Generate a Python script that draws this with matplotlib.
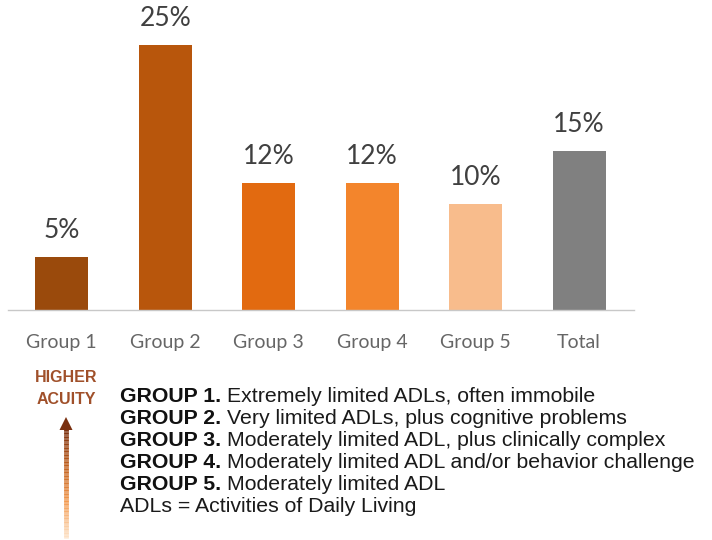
import numpy as np
import matplotlib
matplotlib.use("Agg")
import matplotlib.pyplot as plt
from matplotlib.collections import LineCollection
from matplotlib.colors import LinearSegmentedColormap

groups = ["Group 1", "Group 2", "Group 3", "Group 4", "Group 5", "Total"]
shares = [5, 25, 12, 12, 10, 15]
bar_colors = ["#9A4A0C", "#B8560C", "#E26A10", "#F3852C", "#F8BC8C", "#808080"]

legend_heads = ["GROUP 1.", "GROUP 2.", "GROUP 3.", "GROUP 4.", "GROUP 5."]
legend_texts = [
    "Extremely limited ADLs, often immobile",
    "Very limited ADLs, plus cognitive problems",
    "Moderately limited ADL, plus clinically complex",
    "Moderately limited ADL and/or behavior challenge",
    "Moderately limited ADL",
]
footnote = "ADLs = Activities of Daily Living"

fig = plt.figure(figsize=(7.12, 5.4), dpi=100)

# bar chart ----------------------------------------------------------------
ax = fig.add_axes([8 / 712, 1 - 310 / 540, 626 / 712, 291.5 / 540])
x = np.arange(len(groups))
ax.bar(x, shares, width=0.51, color=bar_colors)
for xi, v in zip(x, shares):
    ax.text(xi, v + 1.3, f"{v}%", ha="center", va="bottom",
            fontsize=19, color="#404040", family="Lato")
ax.set_xlim(-0.52, 5.53)
ax.set_ylim(0, 27.5)
ax.set_xticks(x)
ax.set_xticklabels(groups, fontsize=14, color="#666666", family="Lato")
ax.tick_params(axis="x", length=0, pad=17)
ax.set_yticks([])
for s in ["top", "right", "left"]:
    ax.spines[s].set_visible(False)
ax.spines["bottom"].set_color("#C8C8C8")
ax.spines["bottom"].set_linewidth(1)

# acuity arrow -------------------------------------------------------------
fig.text(66 / 712, 1 - 377 / 540, "HIGHER", ha="center", va="center",
         fontsize=11.5, fontweight="bold", color="#A0502A", family="Liberation Sans")
fig.text(66 / 712, 1 - 400 / 540, "ACUITY", ha="center", va="center",
         fontsize=11.5, fontweight="bold", color="#A0502A", family="Liberation Sans")

arr = fig.add_axes([0, 0, 1, 1], zorder=-1)
arr.set_xlim(0, 712)
arr.set_ylim(540, 0)
arr.axis("off")
cmap = LinearSegmentedColormap.from_list("acuity", ["#FDE3C8", "#F39A50", "#C0601E", "#7A3010"])
ys = np.linspace(538, 428, 80)
segs = [[(66, ys[i]), (66, ys[i + 1])] for i in range(len(ys) - 1)]
lc = LineCollection(segs, colors=cmap(np.linspace(0, 1, len(segs))), linewidths=3.5)
arr.add_collection(lc)
arr.fill([59.5, 72.5, 66], [430, 430, 417], color="#7A3010", lw=0)

# group descriptions ---------------------------------------------------------
font = ["Liberation Sans", "DejaVu Sans"]
y0 = 397
for i, (h, t) in enumerate(zip(legend_heads, legend_texts)):
    y = 1 - (y0 + 22 * i) / 540
    txt = fig.text(120 / 712, y, h + " ", fontsize=15.3, fontweight="bold",
                   va="center", family=font, color="#111111")
    fig.canvas.draw()
    bb = txt.get_window_extent()
    fig.text(bb.x1 / 712, y, t, fontsize=15.3, va="center", family=font,
             color="#1a1a1a")
fig.text(120 / 712, 1 - (y0 + 22 * 5) / 540, footnote, fontsize=15.3,
         va="center", family=font, color="#1a1a1a")

fig.savefig("out.png", dpi=100)
